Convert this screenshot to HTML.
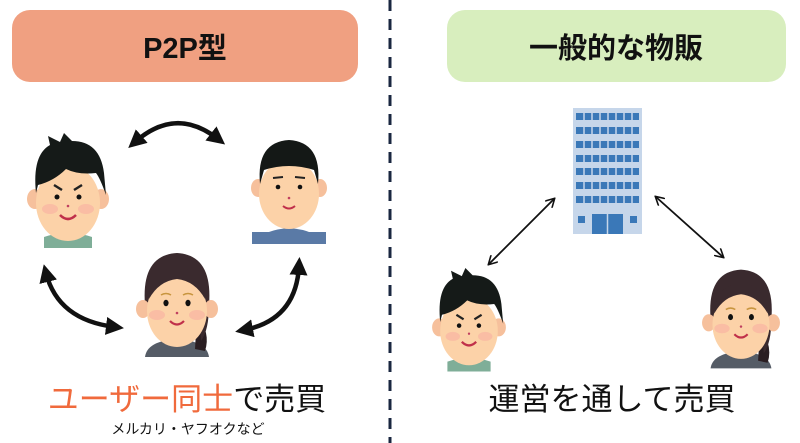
<!DOCTYPE html>
<html><head><meta charset="utf-8"><style>
html,body{margin:0;padding:0;background:#fff;}
body{width:800px;height:443px;overflow:hidden;position:relative;font-family:"Liberation Sans","Noto Sans CJK JP",sans-serif;}
svg{position:absolute;left:0;top:0;}
</style></head><body>
<svg width="800" height="443" viewBox="0 0 800 443" xmlns="http://www.w3.org/2000/svg">
<defs>
<marker id="ah" markerWidth="4" markerHeight="4" refX="2" refY="2" orient="auto-start-reverse" markerUnits="strokeWidth"><path d="M0,0 L4,2 L0,4 z" fill="#111"/></marker>
<marker id="ht" markerWidth="10" markerHeight="10" refX="8" refY="5" orient="auto-start-reverse" markerUnits="userSpaceOnUse"><path d="M0,0 L9,5 L0,10" fill="none" stroke="#111" stroke-width="1.6"/></marker>
<!-- man1: width 80, height 115 -->
<g id="man1">
<path d="M16,104 Q40,96 64,104 L64,115 L16,115 z" fill="#7fae98"/>
<ellipse cx="7" cy="66" rx="8" ry="10" fill="#f6c09c"/>
<ellipse cx="73" cy="66" rx="8" ry="10" fill="#f6c09c"/>
<ellipse cx="40" cy="70" rx="32" ry="38" fill="#fcd2a8"/>
<path d="M8,60 Q4,22 22,12 L20,3 L32,9 L36,0 L44,8 Q72,8 76,40 L78,62 Q72,45 68,40 Q50,42 38,36 Q26,48 10,52 z" fill="#151a18"/>
<path d="M26,52 L34,57 M54,52 L46,57" stroke="#222" stroke-width="2.5"/>
<circle cx="29" cy="64" r="2.5" fill="#111"/><circle cx="51" cy="64" r="2.5" fill="#111"/>
<circle cx="40" cy="73" r="1.3" fill="#c04060"/>
<path d="M32,82 Q40,90 48,82" stroke="#c0304a" stroke-width="2.5" fill="none"/>
<ellipse cx="22" cy="76" rx="8" ry="5" fill="#f7a8a0" opacity=".5"/><ellipse cx="58" cy="76" rx="8" ry="5" fill="#f7a8a0" opacity=".5"/>
</g>
<g id="man2">
<path d="M0,104 Q10,90 37,88 Q64,90 74,104 L74,104 z" fill="#5a7aa6"/>
<rect x="0" y="92" width="74" height="12" fill="#5a7aa6"/>
<ellipse cx="6" cy="48" rx="7" ry="9" fill="#f6c09c"/>
<ellipse cx="68" cy="48" rx="7" ry="9" fill="#f6c09c"/>
<ellipse cx="37" cy="54" rx="30" ry="35" fill="#fcd2a8"/>
<path d="M8,44 Q4,2 37,0 Q70,2 66,44 L62,30 Q37,22 12,30 z" fill="#141816"/>
<path d="M21,38 L31,37 M43,37 L53,38" stroke="#222" stroke-width="2"/>
<circle cx="26" cy="47" r="2.3" fill="#111"/><circle cx="48" cy="47" r="2.3" fill="#111"/>
<circle cx="37" cy="58" r="1.3" fill="#c04060"/>
<path d="M31,66 Q37,71 43,66" stroke="#c0304a" stroke-width="2" fill="none"/>
</g>
<g id="woman">
<path d="M8,112 Q10,96 40,94 Q70,96 72,112 z" fill="#555c66"/>
<path d="M60,70 Q74,88 68,106 L58,104 z" fill="#2a1e22"/>
<path d="M8,60 Q4,10 40,8 Q76,10 72,60 Q72,85 64,96 L60,50 Q40,40 20,50 L14,80 z" fill="#3a2a2e"/>
<ellipse cx="6" cy="64" rx="7" ry="9" fill="#f6c09c"/>
<ellipse cx="74" cy="64" rx="7" ry="9" fill="#f6c09c"/>
<ellipse cx="40" cy="66" rx="30" ry="36" fill="#fcd2a8"/>
<path d="M12,54 Q14,24 40,22 Q66,24 68,54 Q58,36 40,34 Q22,36 12,54 z" fill="#3a2a2e"/>
<path d="M24,50 Q29,47 34,50 M46,50 Q51,47 56,50" stroke="#c8953f" stroke-width="1.6" fill="none"/>
<ellipse cx="29" cy="58" rx="2.6" ry="3.2" fill="#111"/><ellipse cx="51" cy="58" rx="2.6" ry="3.2" fill="#111"/>
<circle cx="40" cy="68" r="1.3" fill="#c04060"/>
<path d="M33,76 Q40,83 47,76" stroke="#c0304a" stroke-width="2.2" fill="none"/>
<ellipse cx="20" cy="70" rx="8" ry="5" fill="#f7a8a0" opacity=".5"/><ellipse cx="60" cy="70" rx="8" ry="5" fill="#f7a8a0" opacity=".5"/>
</g>
</defs>

<rect x="12" y="10" width="346" height="72" rx="18" fill="#f0a081"/>
<text x="185" y="58" text-anchor="middle" font-size="29" font-weight="bold" fill="#111">P2P型</text>
<rect x="447" y="10" width="339" height="72" rx="18" fill="#d8eebe"/>
<text x="616" y="58" text-anchor="middle" font-size="29" font-weight="bold" fill="#111">一般的な物販</text>

<line x1="390" y1="0" x2="390" y2="443" stroke="#1a2740" stroke-width="3" stroke-dasharray="11,8"/>

<!-- left -->
<use href="#man1" x="28" y="133"/>
<use href="#man2" x="252" y="140"/>
<use href="#woman" x="137" y="245"/>
<path d="M135,142 Q176,106 218,139" stroke="#111" stroke-width="4.5" fill="none" marker-start="url(#ah)" marker-end="url(#ah)"/>
<path d="M46,273 Q58,320 115,327" stroke="#111" stroke-width="4.5" fill="none" marker-start="url(#ah)" marker-end="url(#ah)"/>
<path d="M299,266 Q296,320 244,330" stroke="#111" stroke-width="4.5" fill="none" marker-start="url(#ah)" marker-end="url(#ah)"/>

<text x="187" y="410" text-anchor="middle" font-size="31" fill="#111"><tspan fill="#f06a3c">ユーザー同士</tspan>で売買</text>
<text x="188" y="434" text-anchor="middle" font-size="14" fill="#111">メルカリ・ヤフオクなど</text>

<!-- right -->
<g>
<rect x="573" y="108" width="69" height="126" fill="#c6d6ea"/>
<g fill="#3a78b8">
<rect x="576" y="113" width="63" height="7"/><rect x="576" y="127" width="63" height="7"/>
<rect x="576" y="141" width="63" height="7"/><rect x="576" y="155" width="63" height="7"/>
<rect x="576" y="168" width="63" height="7"/><rect x="576" y="182" width="63" height="7"/>
<rect x="576" y="196" width="63" height="7"/>
<rect x="592" y="214" width="31" height="20"/>
<rect x="578" y="216" width="7" height="7"/><rect x="630" y="216" width="7" height="7"/>
</g>
<g stroke="#c6d6ea" stroke-width="1.5">
<line x1="584" y1="110" x2="584" y2="205"/><line x1="592" y1="110" x2="592" y2="205"/>
<line x1="600" y1="110" x2="600" y2="205"/><line x1="608" y1="110" x2="608" y2="205"/>
<line x1="616" y1="110" x2="616" y2="205"/><line x1="624" y1="110" x2="624" y2="205"/>
<line x1="632" y1="110" x2="632" y2="205"/><line x1="607.5" y1="214" x2="607.5" y2="234"/>
</g>
</g>
<line x1="489" y1="264" x2="554" y2="199" stroke="#111" stroke-width="1.8" marker-start="url(#ht)" marker-end="url(#ht)"/>
<line x1="656" y1="197" x2="723" y2="257" stroke="#111" stroke-width="1.8" marker-start="url(#ht)" marker-end="url(#ht)"/>
<use href="#man1" x="433" y="268" transform="translate(433,268) scale(0.9) translate(-433,-268)"/>
<use href="#woman" x="703" y="262" transform="translate(703,262) scale(0.95) translate(-703,-262)"/>
<text x="612" y="410" text-anchor="middle" font-size="31" fill="#111">運営を通して売買</text>
</svg>
</body></html>
